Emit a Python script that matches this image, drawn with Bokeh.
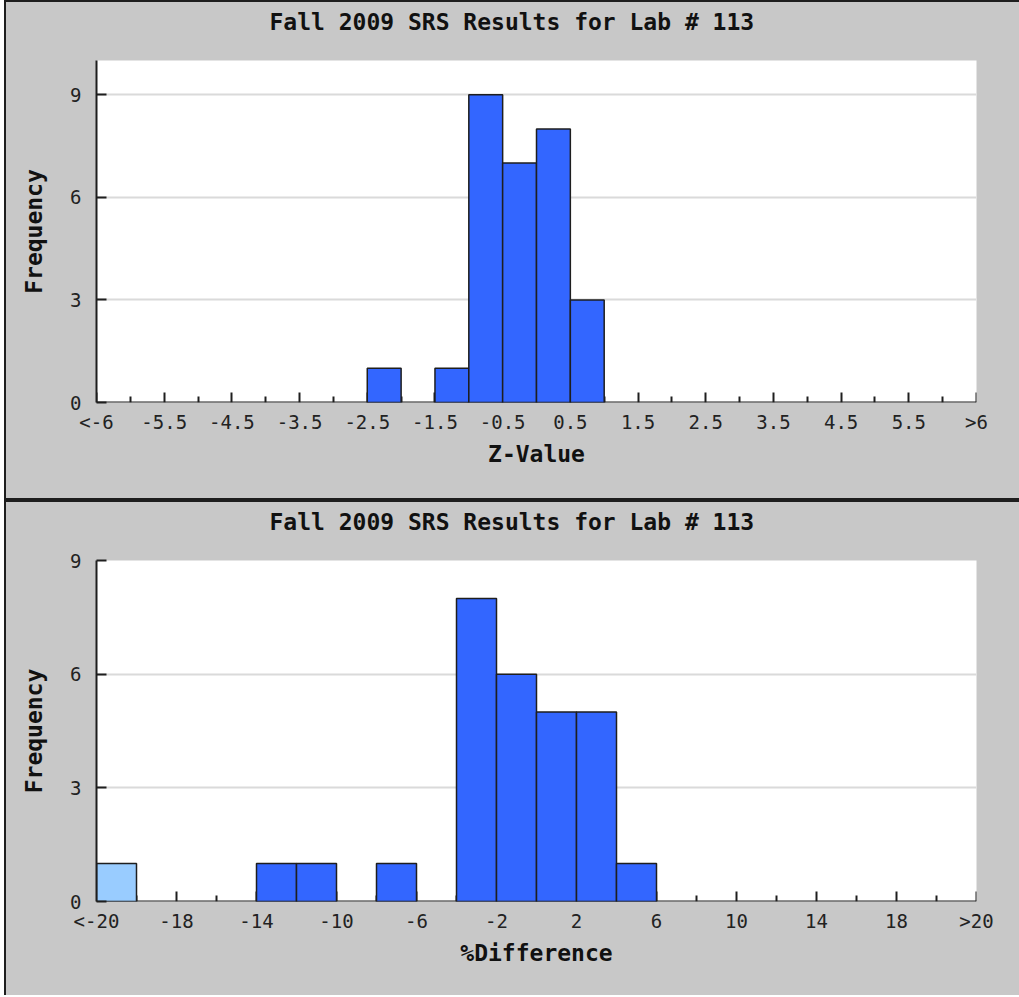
from bokeh.plotting import figure
from bokeh.models import FixedTicker, ColumnDataSource, Range1d, LinearAxis, Title
from bokeh.layouts import column
from bokeh.embed import file_html
from bokeh.resources import INLINE

# ---------------- data ----------------
TITLE = "Fall 2009 SRS Results for Lab # 113"
Y_LABEL = "Frequency"

# Z-Value histogram: 26 bins of width 0.5 starting at -6.5 (first/last are under/overflow)
z_first_edge = -6.5
z_bin_width = 0.5
z_counts = [0, 0, 0, 0, 0, 0, 0, 0, 1, 0, 1, 9, 7, 8, 3, 0, 0, 0, 0, 0, 0, 0, 0, 0, 0, 0]
z_tick_labels = ["<-6", "-5.5", "-4.5", "-3.5", "-2.5", "-1.5", "-0.5",
                 "0.5", "1.5", "2.5", "3.5", "4.5", "5.5", ">6"]
z_xlabel = "Z-Value"
z_ymax = 10
z_yticks = [0, 3, 6, 9]

# %Difference histogram: 22 bins of width 2 starting at -22 (first/last are under/overflow)
d_first_edge = -22.0
d_bin_width = 2.0
d_counts = [1, 0, 0, 0, 1, 1, 0, 1, 0, 8, 6, 5, 5, 1, 0, 0, 0, 0, 0, 0, 0, 0]
d_tick_labels = ["<-20", "-18", "-14", "-10", "-6", "-2", "2", "6", "10", "14", "18", ">20"]
d_xlabel = "%Difference"
d_ymax = 9
d_yticks = [0, 3, 6, 9]

BAR_COLOR = "#3366FF"
OUT_COLOR = "#99CCFF"   # highlighted out-of-range bin

FONT = "DejaVu Sans Mono"
BG = "#C8C8C8"
DARK = "#1E1E1E"


def make_hist(counts, first_edge, width, tick_labels, xlabel, ymax, yticks,
              height, border_top, border_bottom, styles):
    n = len(counts)
    lefts, rights, tops, colors = [], [], [], []
    for i, c in enumerate(counts):
        if c > 0:
            lefts.append(first_edge + i * width)
            rights.append(first_edge + (i + 1) * width)
            tops.append(c)
            colors.append(OUT_COLOR if (i == 0 or i == n - 1) else BAR_COLOR)
    src = ColumnDataSource(dict(left=lefts, right=rights, top=tops,
                                bottom=[0] * len(tops), color=colors))

    x0 = first_edge
    x1 = first_edge + n * width
    p = figure(width=1015, height=height, output_backend="svg", toolbar_location=None,
               x_range=Range1d(x0, x1), y_range=Range1d(0, ymax),
               min_border_left=90, min_border_right=45,
               min_border_top=border_top, min_border_bottom=border_bottom,
               background_fill_color="white", border_fill_color=None,
               outline_line_color=None)
    st = {"background-color": BG, "margin-left": "4px"}
    st.update(styles)
    p.styles = st

    p.quad(left="left", right="right", top="top", bottom="bottom", source=src,
           fill_color="color", line_color=DARK, line_width=1.5)

    major = [first_edge + 2 * i * width for i in range(len(tick_labels))]
    minor = [first_edge + (2 * i + 1) * width for i in range(len(tick_labels) - 1)]

    # spacer keeping the title away from the frame
    p.add_layout(Title(text=" ", text_font_size="2px", standoff=18), "above")
    p.title.text = TITLE
    p.title.align = "left"
    p.title.offset = 173
    p.title.standoff = 8
    p.title.text_font = FONT
    p.title.text_font_size = "23px"
    p.title.text_font_style = "bold"
    p.title.text_color = "#111111"

    # x axis A: line + ticks only, drawn beneath the bars
    xa = p.xaxis[0]
    xa.ticker = FixedTicker(ticks=major, minor_ticks=minor)
    xa.level = "underlay"
    xa.major_label_overrides = {float(t): "" for t in major}
    xa.major_label_text_font_size = "0px"
    xa.major_label_standoff = 0
    xa.axis_line_color = DARK
    xa.axis_line_width = 2
    xa.major_tick_line_color = DARK
    xa.minor_tick_line_color = DARK
    xa.major_tick_line_width = 2
    xa.minor_tick_line_width = 2
    xa.major_tick_in = 10
    xa.major_tick_out = 0
    xa.minor_tick_in = 6
    xa.minor_tick_out = 0

    # x axis B: labels only
    xb = LinearAxis(ticker=FixedTicker(ticks=major, minor_ticks=[]),
                    major_label_overrides={float(t): lab for t, lab in zip(major, tick_labels)},
                    axis_line_color=None, major_tick_line_color=None, minor_tick_line_color=None,
                    major_tick_in=0, major_tick_out=0, minor_tick_in=0, minor_tick_out=0,
                    major_label_standoff=8, axis_label=xlabel, axis_label_standoff=5,
                    major_label_text_font=FONT, major_label_text_font_size="19px",
                    major_label_text_color="#222222",
                    axis_label_text_font=FONT, axis_label_text_font_size="23px",
                    axis_label_text_font_style="bold", axis_label_text_color="#111111")
    p.add_layout(xb, "below")

    ya = p.yaxis[0]
    ya.ticker = FixedTicker(ticks=yticks)
    ya.axis_label = Y_LABEL
    ya.axis_line_color = DARK
    ya.axis_line_width = 2
    ya.major_tick_line_color = DARK
    ya.major_tick_line_width = 2
    ya.major_tick_in = 10
    ya.major_tick_out = 0
    ya.minor_tick_line_color = None
    ya.major_label_text_font = FONT
    ya.major_label_text_font_size = "19px"
    ya.major_label_text_color = "#222222"
    ya.axis_label_text_font = FONT
    ya.axis_label_text_font_size = "23px"
    ya.axis_label_text_font_style = "bold"
    ya.axis_label_text_color = "#111111"
    ya.major_label_standoff = 15
    ya.axis_label_standoff = 20

    p.xgrid.grid_line_color = None
    p.ygrid.grid_line_color = "#DADADA"
    p.ygrid.grid_line_width = 2
    return p


p1 = make_hist(z_counts, z_first_edge, z_bin_width, z_tick_labels, z_xlabel, z_ymax, z_yticks,
               height=500, border_top=58, border_bottom=100,
               styles={"border-left": f"2px solid {DARK}", "border-top": f"2px solid {DARK}",
                       "border-bottom": f"2px solid {DARK}"})
p2 = make_hist(d_counts, d_first_edge, d_bin_width, d_tick_labels, d_xlabel, d_ymax, d_yticks,
               height=495, border_top=58, border_bottom=96,
               styles={"border-left": f"2px solid {DARK}", "border-top": f"2px solid {DARK}"})

layout = column(p1, p2, spacing=0)
open("out.html", "w").write(file_html(layout, INLINE))
